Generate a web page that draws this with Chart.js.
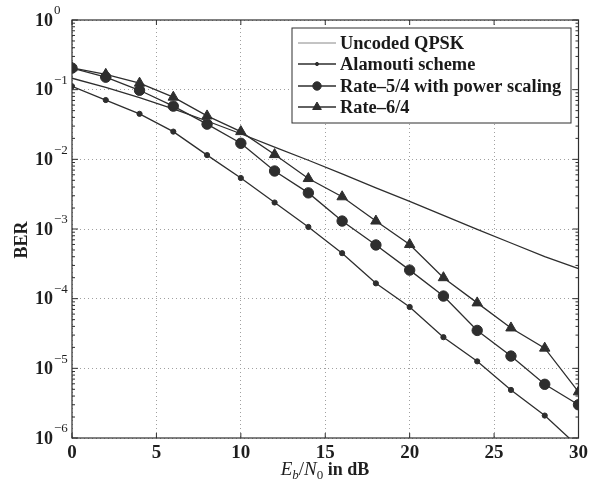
<!DOCTYPE html>
<html>
<head>
<meta charset="utf-8">
<script src="https://cdn.jsdelivr.net/npm/chart.js@4.4.1/dist/chart.umd.min.js"></script>
<style>
  body { margin: 0; background: #fff; }
  #wrap { width: 592px; height: 483px; }
</style>
</head>
<body>
<div id="wrap"><canvas id="berChart"></canvas></div>
<script>
// Eb/N0 in dB
const snrDb = [0, 2, 4, 6, 8, 10, 12, 14, 16, 18, 20, 22, 24, 26, 28, 30];

// BER
const uncodedQpsk = [0.146, 0.108, 0.077, 0.053, 0.0355, 0.0233, 0.015, 0.0097, 0.0062, 0.0039, 0.0025, 0.00157, 0.00099, 0.00063, 0.0004, 0.00027];
const alamouti = [0.112, 0.071, 0.045, 0.025, 0.0115, 0.0054, 0.0024, 0.00107, 0.00045, 0.000166, 0.000076, 0.000028, 0.0000126, 0.0000049, 0.0000021, 0.00000075];
const rate54 = [0.204, 0.151, 0.098, 0.058, 0.032, 0.017, 0.0068, 0.0033, 0.0013, 0.00059, 0.000257, 0.000109, 0.000035, 0.000015, 0.0000059, 0.000003];
const rate64 = [0.206, 0.166, 0.124, 0.078, 0.042, 0.025, 0.0117, 0.0053, 0.0029, 0.0013, 0.0006, 0.0002, 0.000087, 0.000038, 0.0000195, 0.0000046];

const seriesLabels = ['Uncoded QPSK', 'Alamouti scheme', 'Rate\u20135/4 with power scaling', 'Rate\u20136/4'];
const xTicks = [0, 5, 10, 15, 20, 25, 30];
const yDecades = [-6, -5, -4, -3, -2, -1, 0];

const ink = '#2e2e2e';
const serif = '"Liberation Serif", "DejaVu Serif", serif';

function pts(vals) {
    return snrDb.map((x, i) => ({ x: x, y: vals[i] }));
}

const styles = [
    { pointStyle: false, radius: 0 },
    { pointStyle: 'circle', radius: 2.6 },
    { pointStyle: 'circle', radius: 5.2 },
    { pointStyle: 'triangle', radius: 6 }
];

const datasets = [uncodedQpsk, alamouti, rate54, rate64].map((vals, i) => ({
    label: seriesLabels[i],
    data: pts(vals),
    borderColor: ink,
    backgroundColor: ink,
    borderWidth: 1.3,
    pointStyle: styles[i].pointStyle || 'circle',
    pointRadius: styles[i].radius,
    pointBorderWidth: 1,
    tension: 0
}));

function line(ctx, x1, y1, x2, y2) {
    ctx.beginPath();
    ctx.moveTo(x1, y1);
    ctx.lineTo(x2, y2);
    ctx.stroke();
}

const decor = {
    id: 'decor',
    afterDraw(chart) {
        const { ctx, chartArea: a } = chart;
        const x = chart.scales.x, y = chart.scales.y;
        ctx.save();
        ctx.setLineDash([]);
        ctx.strokeStyle = ink;
        ctx.lineWidth = 1.2;
        ctx.strokeRect(a.left, a.top, a.right - a.left, a.bottom - a.top);

        // tick marks
        ctx.lineWidth = 1;
        xTicks.forEach(v => {
            const px = x.getPixelForValue(v);
            line(ctx, px, a.bottom, px, a.bottom - 5);
            line(ctx, px, a.top, px, a.top + 5);
        });
        yDecades.forEach(e => {
            const py = y.getPixelForValue(Math.pow(10, e));
            line(ctx, a.left, py, a.left + 6, py);
            line(ctx, a.right, py, a.right - 6, py);
            if (e < 0) {
                for (let m = 2; m <= 9; m++) {
                    const pm = y.getPixelForValue(m * Math.pow(10, e));
                    line(ctx, a.left, pm, a.left + 3, pm);
                    line(ctx, a.right, pm, a.right - 3, pm);
                }
            }
            // 10^e labels
            ctx.fillStyle = '#1e1e1e';
            ctx.textBaseline = 'middle';
            ctx.textAlign = 'left';
            ctx.font = 'bold 18px ' + serif;
            ctx.fillText('10', 35, py + 1);
            ctx.font = '13px ' + serif;
            ctx.fillText(e === 0 ? '0' : '\u2212' + (-e), 54, py - 9);
        });

        // y title
        ctx.save();
        ctx.translate(22, 240);
        ctx.rotate(-Math.PI / 2);
        ctx.textAlign = 'center';
        ctx.textBaseline = 'middle';
        ctx.font = 'bold 18px ' + serif;
        ctx.fillStyle = '#1e1e1e';
        ctx.fillText('BER', 0, 0);
        ctx.restore();

        // x title: E_b/N_0 in dB
        const parts = [
            { t: 'E', f: 'italic 19px ', dy: 0 },
            { t: 'b', f: 'italic 13px ', dy: 4 },
            { t: '/', f: '19px ', dy: 0 },
            { t: 'N', f: 'italic 19px ', dy: 0 },
            { t: '0', f: '13px ', dy: 4 },
            { t: ' in dB', f: 'bold 18px ', dy: 0 }
        ];
        let total = 0;
        parts.forEach(p => { ctx.font = p.f + serif; p.w = ctx.measureText(p.t).width; total += p.w; });
        let cx = 325 - total / 2;
        ctx.fillStyle = '#1e1e1e';
        ctx.textAlign = 'left';
        ctx.textBaseline = 'alphabetic';
        parts.forEach(p => {
            ctx.font = p.f + serif;
            ctx.fillText(p.t, cx, 475 + p.dy);
            cx += p.w;
        });

        // legend box
        const bx = 292, by = 28, bw = 279, bh = 95;
        ctx.fillStyle = '#fff';
        ctx.fillRect(bx, by, bw, bh);
        ctx.strokeStyle = ink;
        ctx.lineWidth = 1;
        ctx.strokeRect(bx, by, bw, bh);
        const rows = [43, 64, 86, 107];
        chart.data.datasets.forEach((ds, i) => {
            const ry = rows[i];
            ctx.strokeStyle = i === 0 ? '#888' : ink;
            ctx.lineWidth = i === 0 ? 1 : 1.3;
            line(ctx, 298, ry, 336, ry);
            if (styles[i].radius > 0) {
                ctx.fillStyle = ink;
                ctx.strokeStyle = ink;
                ctx.lineWidth = 1;
                Chart.helpers.drawPoint(ctx, { pointStyle: styles[i].pointStyle, radius: styles[i].radius - 1, rotation: 0, borderWidth: 1 }, 317, ry);
            }
            ctx.fillStyle = '#1a1a1a';
            ctx.font = 'bold 18.4px ' + serif;
            ctx.textAlign = 'left';
            ctx.textBaseline = 'middle';
            ctx.fillText(ds.label, 340, ry + 1);
        });
        ctx.restore();
    }
};

const ctx = document.getElementById('berChart').getContext('2d');
const berChart = new Chart(ctx, {
    type: 'line',
    data: { datasets: datasets },
    options: {
        responsive: true,
        maintainAspectRatio: false,
        animation: false,
        layout: { padding: { left: 0, right: 12, top: 20, bottom: 0 } },
        plugins: {
            legend: { display: false },
            tooltip: { enabled: false }
        },
        scales: {
            x: {
                type: 'linear',
                min: 0,
                max: 30,
                afterBuildTicks: s => { s.ticks = xTicks.map(v => ({ value: v })); },
                afterFit: s => { s.height = 45; },
                ticks: {
                    color: '#1e1e1e',
                    padding: 4,
                    font: { family: serif, size: 19, weight: 'bold' }
                },
                grid: { color: '#a0a0a0', lineWidth: 1, drawTicks: false },
                border: { display: false, dash: [1, 3] }
            },
            y: {
                type: 'logarithmic',
                min: 1e-6,
                max: 1,
                afterBuildTicks: s => { s.ticks = yDecades.map(e => ({ value: Math.pow(10, e) })); },
                afterFit: s => { s.width = 72; },
                ticks: { display: false },
                grid: { color: '#a0a0a0', lineWidth: 1, drawTicks: false },
                border: { display: false, dash: [1, 3] }
            }
        }
    },
    plugins: [decor]
});
</script>
</body>
</html>
